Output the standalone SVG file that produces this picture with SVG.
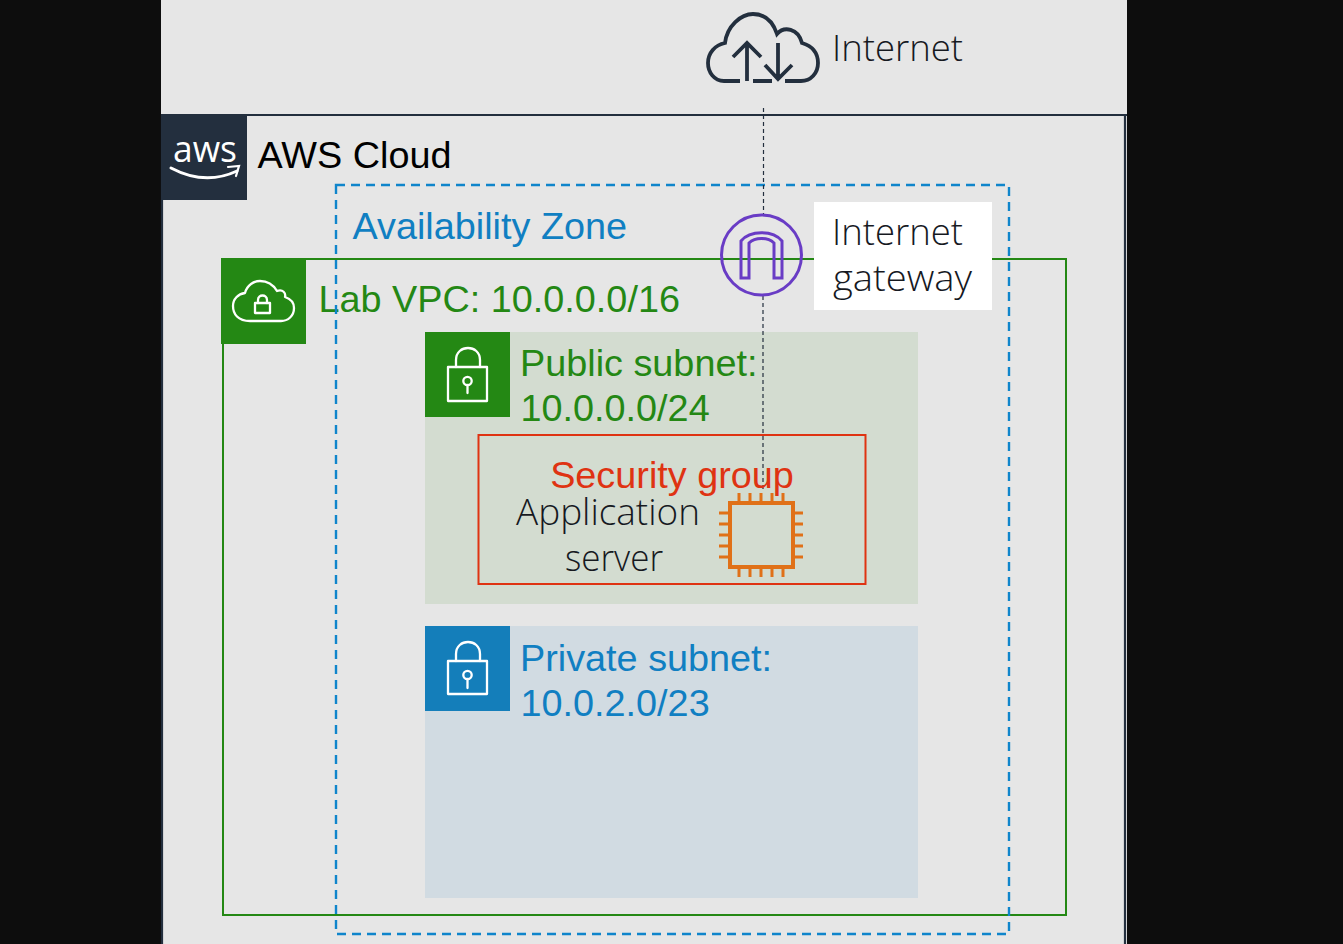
<svg xmlns="http://www.w3.org/2000/svg" width="1343" height="944" viewBox="0 0 1343 944">
<style>
.sans{font-family:"Liberation Sans",Arial,sans-serif;font-size:37.8px}
.light{font-family:"Open Sans","Noto Sans",sans-serif;font-weight:300;font-size:36px;fill:#16191f}
.icon{fill:none;stroke:#fff;stroke-width:2.3;stroke-linejoin:round;stroke-linecap:round}
</style>
<rect width="1343" height="944" fill="#0d0d0d"/>
<rect x="161" y="0" width="966" height="944" fill="#e6e6e6"/>
<g id="aws-cloud">
<path d="M162 944V115H1125V944M1125 115H1127" fill="none" stroke="#232f3e" stroke-width="2.2"/>
<rect x="161" y="115" width="86" height="85" fill="#232f3e"/>
<text x="205" y="162" text-anchor="middle" font-family="'Open Sans','Noto Sans',sans-serif" font-size="36" fill="#fff" textLength="64" lengthAdjust="spacingAndGlyphs">aws</text>
<path d="M171 168Q205 186 237 171" fill="none" stroke="#fff" stroke-width="3" stroke-linecap="round"/>
<path d="M228 167L239 166L236 176" fill="none" stroke="#fff" stroke-width="2.200" stroke-linecap="round"/>
<text class="sans" x="257.500" y="168" fill="#000">AWS Cloud</text>
</g>
<g id="internet">
<path d="M740 81H724C714 81 708 72 708 63C708 53 715 45 725 43C727 26 741 14 753 14C765 14 773 22 777 34C784 26 798 28 802 43C812 46 818 53 818 63C818 73 811 81 801 81H785M753 81H772" fill="none" stroke="#232f3e" stroke-width="3.800" stroke-linecap="butt"/>
<path d="M747 81V44M733 57L747 43L761 57M778 43V79M765 65L778 79L792 65" fill="none" stroke="#232f3e" stroke-width="3.800"/>
<text class="light" x="832" y="61" textLength="131" lengthAdjust="spacingAndGlyphs">Internet</text>
</g>
<g id="lab-vpc">
<rect x="223" y="259" width="843" height="656" fill="none" stroke="#248814" stroke-width="2"/>
<rect x="221" y="258" width="85" height="86" fill="#248814"/>
<path d="M250 321C238 321 233 314 233 306C233 299 238 294 245 293C247 285 254 281 260 281C268 281 274 286 277 291C283 289 286 293 285 297C291 299 294 303 294 308C294 316 288 321 281 321Z" class="icon"/>
<rect x="255" y="303" width="15" height="10" class="icon"/>
<path d="M258 303V300C258 294 267 294 267 300V303" class="icon"/>
<text class="sans" x="318.500" y="312" fill="#248814">Lab VPC: 10.0.0.0/16</text>
</g>
<g id="public-subnet">
<rect x="425" y="332" width="493" height="272" fill="#d3dcd0"/>
<rect x="425" y="332" width="85" height="85" fill="#248814"/>
<rect x="448" y="367" width="39" height="34" class="icon"/>
<path d="M456 367V360C456 344 480 344 480 360V367" class="icon"/>
<circle cx="467.500" cy="381" r="4.200" class="icon"/>
<path d="M467.500 385V393" class="icon"/>
<text class="sans" x="520" y="376" fill="#248814">Public subnet:</text>
<text class="sans" x="520.500" y="421" fill="#248814">10.0.0.0/24</text>
</g>
<g id="private-subnet">
<rect x="425" y="626" width="493" height="272" fill="#d1dbe2"/>
<rect x="425" y="626" width="85" height="85" fill="#147eba"/>
<rect x="448" y="661" width="39" height="33" class="icon"/>
<path d="M456 661V654C456 638 480 638 480 654V661" class="icon"/>
<circle cx="467.500" cy="675" r="4.200" class="icon"/>
<path d="M467.500 679V688" class="icon"/>
<text class="sans" x="520" y="671" fill="#107fc2">Private subnet:</text>
<text class="sans" x="520.500" y="716" fill="#107fc2">10.0.2.0/23</text>
</g>
<g id="availability-zone">
<rect x="336" y="185" width="673" height="749" fill="none" stroke="#0f85cb" stroke-width="2.400" stroke-dasharray="9 6"/>
<text class="sans" x="352.500" y="238.500" fill="#107fc2">Availability Zone</text>
</g>
<g id="connectors">
<path d="M763.500 108V214M763 296V490" fill="none" stroke="#232f3e" stroke-width="1.200" stroke-dasharray="4 3"/>
</g>
<g id="internet-gateway">
<circle cx="761.500" cy="255" r="40" fill="none" stroke="#693cc5" stroke-width="3"/>
<path d="M741 278V241C750 230 773 230 782 241V278H774V243C768 237 755 237 749 243V278Z" fill="none" stroke="#693cc5" stroke-width="3"/>
<rect x="814" y="202" width="178" height="108" fill="#fff"/>
<text class="light" x="832" y="245" textLength="131" lengthAdjust="spacingAndGlyphs">Internet</text>
<text class="light" x="833" y="291" textLength="139" lengthAdjust="spacingAndGlyphs">gateway</text>
</g>
<g id="security-group">
<rect x="478.500" y="435" width="387" height="149" fill="none" stroke="#df3312" stroke-width="2"/>
<text class="sans" x="672" y="488" text-anchor="middle" fill="#df3312">Security group</text>
</g>
<g id="application-server">
<rect x="730" y="503" width="63" height="64" fill="none" stroke="#e07118" stroke-width="4"/>
<path d="M739 493V503M750 493V503M761 493V503M772 493V503M783 493V503M739 567V577M750 567V577M761 567V577M772 567V577M783 567V577M719 513H730M719 524H730M719 535H730M719 546H730M719 557H730M793 513H803M793 524H803M793 535H803M793 546H803M793 557H803" fill="none" stroke="#e07118" stroke-width="3"/>
<text class="light" x="516" y="525" textLength="184" lengthAdjust="spacingAndGlyphs">Application</text>
<text class="light" x="565" y="571" textLength="98" lengthAdjust="spacingAndGlyphs">server</text>
</g>
</svg>
